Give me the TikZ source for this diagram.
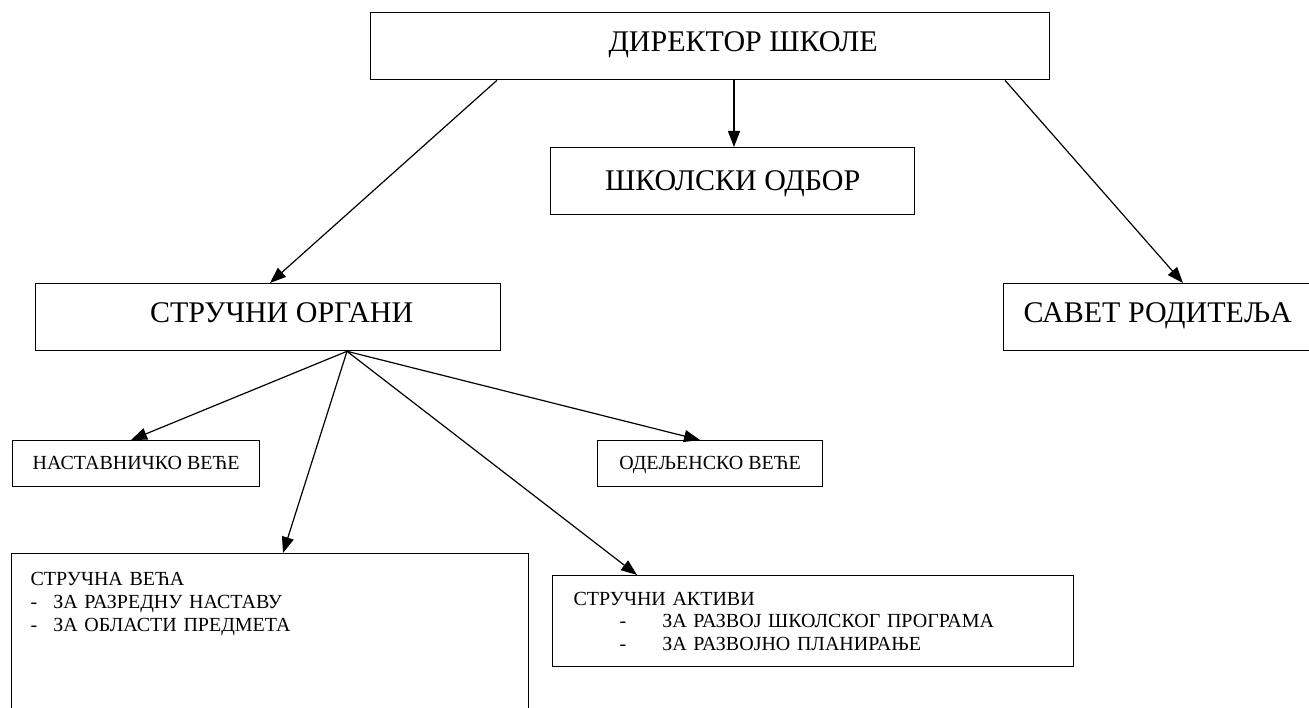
\documentclass[tikz,border=0pt]{standalone}
\usepackage{fontspec}
\setmainfont{Liberation Serif}
\usetikzlibrary{arrows.meta}
\tikzset{box/.style={draw,line width=1.3pt,rectangle,anchor=north west,inner sep=0pt},
    bigbox/.style={box,font=\fontsize{30}{34}\selectfont,text height=39pt,text depth=28pt},
    smallbox/.style={box,font=\fontsize{20}{22}\selectfont,text height=29pt,text depth=17pt},
    listbox/.style={box,font=\fontsize{20}{#1}\selectfont,align=left,inner ysep=11pt},
    link/.style={line width=1.2pt,-{Triangle[length=16pt,width=12pt]}},
    }
\begin{document}
\begin{tikzpicture}[x=1pt,y=-1pt]
\clip (0,0) rectangle (1309,708);
\node[bigbox,minimum width=679pt,text height=38.5pt,text depth=28.5pt] (dir) at (370,12) {\hspace*{66pt}ДИРЕКТОР ШКОЛЕ};
\node[bigbox,minimum width=364pt,text height=43pt,text depth=24pt] (odbor) at (550,147) {ШКОЛСКИ ОДБОР};
\node[bigbox,minimum width=465pt] (organi) at (35,283) {\hspace*{27pt}СТРУЧНИ ОРГАНИ};
\node[bigbox,inner xsep=20pt] (savet) at (1003,283) {САВЕТ РОДИТЕЉА};
\node[smallbox,minimum width=247pt] (nast) at (12,440) {НАСТАВНИЧКО ВЕЋЕ};
\node[smallbox,minimum width=225pt] (odelj) at (597,440) {ОДЕЉЕНСКО ВЕЋЕ};
\node[listbox=23,text width=479pt,inner xsep=19pt,inner ysep=8pt,minimum height=180pt,text depth=130pt] (vece) at (11,553)
    {СТРУЧНА ВЕЋА\\-\hspace{16pt}ЗА РАЗРЕДНУ НАСТАВУ\\-\hspace{16pt}ЗА ОБЛАСТИ ПРЕДМЕТА};
\node[listbox=22.5,text width=479pt,inner xsep=21pt,minimum height=91pt] (aktivi) at (552,575)
    {СТРУЧНИ АКТИВИ\\\hspace*{46pt}-\hspace{36pt}ЗА РАЗВОЈ ШКОЛСКОГ ПРОГРАМА\\\hspace*{46pt}-\hspace{36pt}ЗА РАЗВОЈНО ПЛАНИРАЊЕ};
% director links
\draw[link] ([xshift=364pt]dir.south west) -- ([xshift=184pt]odbor.north west);
\draw[link] ([xshift=127pt]dir.south west) -- ([xshift=235pt]organi.north west);
\draw[link] ([xshift=635pt]dir.south west) -- ([xshift=180pt]savet.north west);
% organi links
\draw[link] ([xshift=312pt]organi.south west) -- ([xshift=119pt]nast.north west);
\draw[link] ([xshift=312pt]organi.south west) -- ([xshift=272pt]vece.north west);
\draw[link] ([xshift=312pt]organi.south west) -- ([xshift=85pt]aktivi.north west);
\draw[link] ([xshift=312pt]organi.south west) -- ([xshift=103pt]odelj.north west);
\end{tikzpicture}
\end{document}
